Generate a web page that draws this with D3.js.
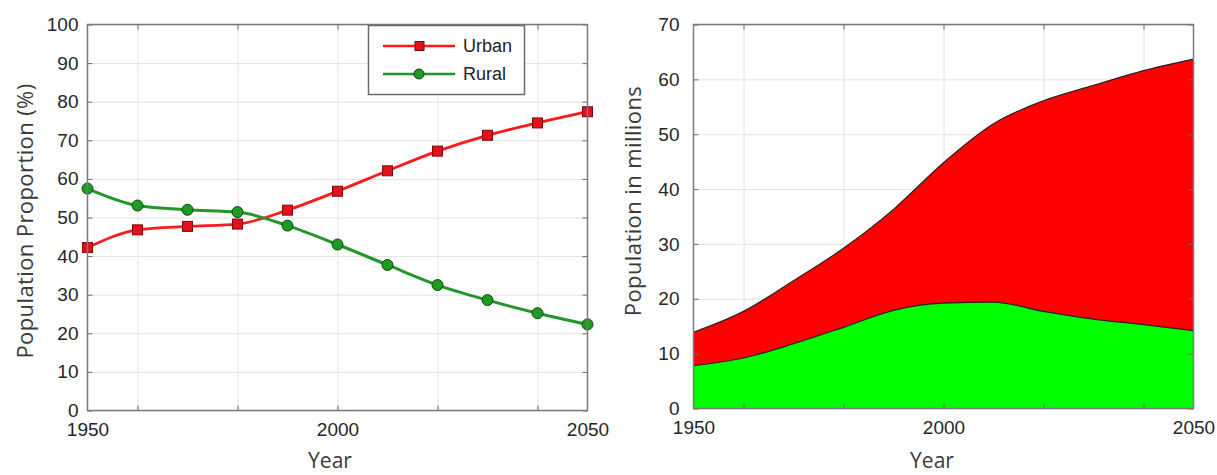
<!DOCTYPE html>
<html>
<head>
<meta charset="utf-8">
<script src="https://d3js.org/d3.v7.min.js"></script>
<style>
    body { margin: 0; background: #fff; }
    svg text { font-family: 'Liberation Sans', Arial, sans-serif; fill: #262626; }
    .tick-label text { font-size: 19px; fill: #262626; }
    .axis-title { font-family: 'Open Sans', sans-serif; font-size: 21px; fill: #3a3a3a; }
    .y-title { font-size: 22px; letter-spacing: 0.4px; }
    .grid line { stroke: #e2e2e2; stroke-width: 1; }
    .legend text { font-size: 18px; fill: #222; }
</style>
</head>
<body>
<svg width="1217" height="475"></svg>
<script>
// Data
let years = [1950, 1960, 1970, 1980, 1990, 2000, 2010, 2020, 2030, 2040, 2050]
let urbanShare = [42.2, 46.8, 47.7, 48.3, 51.9, 56.8, 62.1, 67.2, 71.3, 74.5, 77.4]
let ruralShare = [57.5, 53.1, 52.0, 51.4, 47.9, 43.0, 37.7, 32.5, 28.6, 25.2, 22.3]
let ruralPop = [7.8, 9.2, 11.8, 14.8, 17.9, 19.2, 19.4, 17.7, 16.3, 15.3, 14.2]
let urbanPop = [6.1, 8.5, 11.5, 14.4, 18.4, 25.6, 32.5, 38.4, 42.6, 46.3, 49.5]

// Ticks
let xTickLabels = [1950, 2000, 2050]
let xGridYears = [1960, 1980, 2000, 2020, 2040]
let yTicksLeft = [0, 10, 20, 30, 40, 50, 60, 70, 80, 90, 100]
let yTicksRight = [0, 10, 20, 30, 40, 50, 60, 70]

let svg = d3.select('svg')

// Grid lines of one panel
function drawGrid(g, scale, yTicks) {
    let w = scale.x.range()[1] - scale.x.range()[0]
    let h = scale.y.range()[0] - scale.y.range()[1]

    g.append('g')
        .attr('class', 'grid')
        .attr('transform', `translate(0,${scale.y.range()[0]})`)
        .call(d3.axisBottom(scale.x).tickValues(xGridYears).tickFormat('').tickSize(-h))
        .call(a => a.select('.domain').remove())

    g.append('g')
        .attr('class', 'grid')
        .attr('transform', `translate(${scale.x.range()[0]},0)`)
        .call(d3.axisLeft(scale.y).tickValues(yTicks).tickFormat('').tickSize(-w))
        .call(a => a.select('.domain').remove())
}

// Box, inward ticks and tick labels
function drawFrame(g, scale, yTicks, yPad) {
    let x0 = scale.x.range()[0], x1 = scale.x.range()[1]
    let y0 = scale.y.range()[0], y1 = scale.y.range()[1]

    let ticks = [
        { axis: d3.axisBottom(scale.x).tickValues(xGridYears), t: `translate(0,${y0})` },
        { axis: d3.axisTop(scale.x).tickValues(xGridYears), t: `translate(0,${y1})` },
        { axis: d3.axisLeft(scale.y).tickValues(yTicks), t: `translate(${x0},0)` },
        { axis: d3.axisRight(scale.y).tickValues(yTicks), t: `translate(${x1},0)` }
    ]
    ticks.forEach(k => {
        g.append('g')
            .attr('transform', k.t)
            .call(k.axis.tickFormat('').tickSize(-5))
            .call(a => a.select('.domain').remove())
            .selectAll('line').attr('stroke', '#6e6e6e').attr('stroke-width', 1)
    })

    g.append('rect')
        .attr('x', x0).attr('y', y1)
        .attr('width', x1 - x0).attr('height', y0 - y1)
        .attr('fill', 'none')
        .attr('stroke', '#7a7a7a')
        .attr('stroke-width', 1.5)

    g.append('g')
        .attr('class', 'tick-label')
        .attr('transform', `translate(0,${y0})`)
        .call(d3.axisBottom(scale.x).tickValues(xTickLabels).tickFormat(d3.format('d')).tickSize(0).tickPadding(12))
        .call(a => a.select('.domain').remove())

    g.append('g')
        .attr('class', 'tick-label')
        .attr('transform', `translate(${x0},0)`)
        .call(d3.axisLeft(scale.y).tickValues(yTicks).tickSize(0).tickPadding(yPad))
        .call(a => a.select('.domain').remove())

    g.selectAll('.tick-label text').attr('font-family', null)
    g.selectAll('.tick-label').attr('font-size', null)
}

function axisTitles(g, xc, yc, xTitleX, yTitle) {
    g.append('text')
        .attr('class', 'axis-title')
        .attr('x', xTitleX)
        .attr('y', 468)
        .attr('text-anchor', 'middle')
        .text('Year')

    g.append('text')
        .attr('class', 'axis-title y-title')
        .attr('x', -yc)
        .attr('y', xc)
        .attr('dy', '0.35em')
        .attr('text-anchor', 'middle')
        .attr('transform', 'rotate(-90)')
        .text(yTitle)
}

// ---------- Left panel: proportions ----------
let left = svg.append('g')
let scaleL = {
    x: d3.scaleLinear().domain([1950, 2050]).range([87.5, 587.5]),
    y: d3.scaleLinear().domain([0, 100]).range([410.5, 24.5])
}
drawGrid(left, scaleL, yTicksLeft)

let line = values => d3.line()
    .x((d, i) => scaleL.x(years[i]))
    .y(d => scaleL.y(d))
    .curve(d3.curveMonotoneX)(values)

left.append('path')
    .attr('d', line(urbanShare))
    .attr('fill', 'none')
    .attr('stroke', '#ff1a1a')
    .attr('stroke-width', 2.8)

left.append('path')
    .attr('d', line(ruralShare))
    .attr('fill', 'none')
    .attr('stroke', '#23952a')
    .attr('stroke-width', 3)

left.selectAll('.urban-pt')
    .data(urbanShare)
    .enter()
    .append('rect')
    .attr('class', 'urban-pt')
    .attr('x', (d, i) => scaleL.x(years[i]) - 5)
    .attr('y', d => scaleL.y(d) - 5)
    .attr('width', 10)
    .attr('height', 10)
    .attr('fill', '#e4101c')
    .attr('stroke', '#7a0a0a')
    .attr('stroke-width', 1)

left.selectAll('.rural-pt')
    .data(ruralShare)
    .enter()
    .append('circle')
    .attr('class', 'rural-pt')
    .attr('cx', (d, i) => scaleL.x(years[i]))
    .attr('cy', d => scaleL.y(d))
    .attr('r', 5.5)
    .attr('fill', '#1f9a22')
    .attr('stroke', '#0c4a0e')
    .attr('stroke-width', 1)

drawFrame(left, scaleL, yTicksLeft, 9)
axisTitles(left, 25, 221, 330, 'Population Proportion (%)')

// Legend
let legend = left.append('g').attr('class', 'legend')
legend.append('rect')
    .attr('x', 368.5).attr('y', 25.5)
    .attr('width', 156).attr('height', 69)
    .attr('fill', '#fff')
    .attr('stroke', '#6a6a6a')
    .attr('stroke-width', 1.5)

let rows = [
    { name: 'Urban', color: '#ff1a1a', y: 46 },
    { name: 'Rural', color: '#23952a', y: 74 }
]
rows.forEach((r, i) => {
    legend.append('line')
        .attr('x1', 383).attr('x2', 455)
        .attr('y1', r.y).attr('y2', r.y)
        .attr('stroke', r.color)
        .attr('stroke-width', 2.6)
    if (i == 0) {
        legend.append('rect')
            .attr('x', 415).attr('y', r.y - 4.5)
            .attr('width', 9).attr('height', 9)
            .attr('fill', '#e4101c').attr('stroke', '#7a0a0a')
    } else {
        legend.append('circle')
            .attr('cx', 419).attr('cy', r.y).attr('r', 5)
            .attr('fill', '#1f9a22').attr('stroke', '#0c4a0e')
    }
    legend.append('text')
        .attr('x', 463).attr('y', r.y)
        .attr('dy', '0.35em')
        .text(r.name)
})

// ---------- Right panel: stacked population ----------
let right = svg.append('g')
let scaleR = {
    x: d3.scaleLinear().domain([1950, 2050]).range([693.5, 1193.5]),
    y: d3.scaleLinear().domain([0, 70]).range([408.5, 24.5])
}
drawGrid(right, scaleR, yTicksRight)

let table = years.map((y, i) => ({ year: y, rural: ruralPop[i], urban: urbanPop[i] }))
let stack = d3.stack().keys(['rural', 'urban'])(table)
let colors = { rural: '#00ff00', urban: '#ff0000' }

let area = d3.area()
    .x(d => scaleR.x(d.data.year))
    .y0(d => scaleR.y(d[0]))
    .y1(d => scaleR.y(d[1]))
    .curve(d3.curveMonotoneX)

right.selectAll('.layer')
    .data(stack)
    .enter()
    .append('path')
    .attr('class', 'layer')
    .attr('d', area)
    .attr('fill', d => colors[d.key])

let edge = d3.line()
    .x(d => scaleR.x(d.data.year))
    .y(d => scaleR.y(d[1]))
    .curve(d3.curveMonotoneX)

right.selectAll('.edge')
    .data(stack)
    .enter()
    .append('path')
    .attr('class', 'edge')
    .attr('d', edge)
    .attr('fill', 'none')
    .attr('stroke', '#222')
    .attr('stroke-width', 1.2)

drawFrame(right, scaleR, yTicksRight, 14)
axisTitles(right, 633, 201, 932, 'Population in millions')
</script>
</body>
</html>
